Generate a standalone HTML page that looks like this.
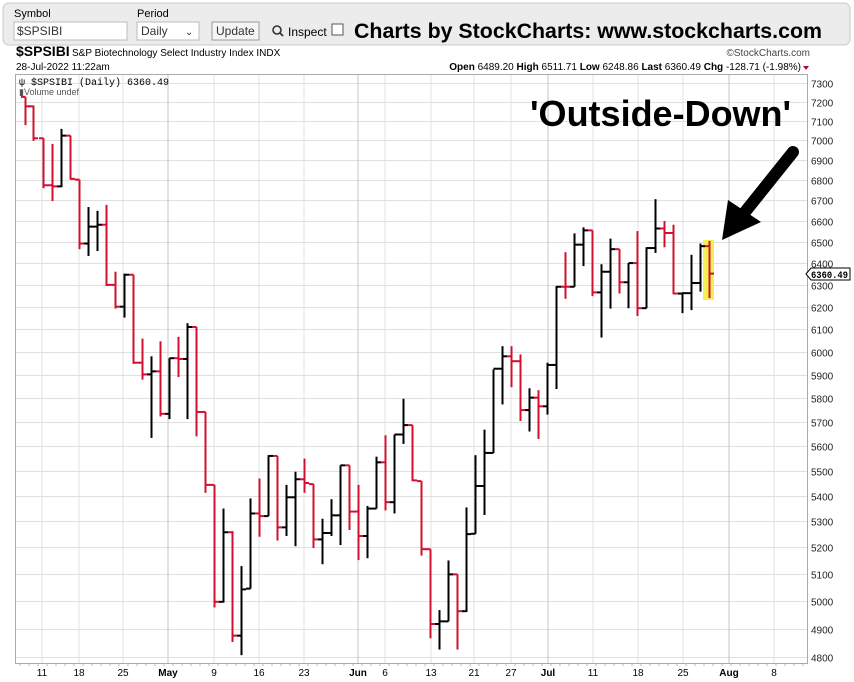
<!DOCTYPE html>
<html><head><meta charset="utf-8">
<style>
body{margin:0;background:#fff;font-family:"Liberation Sans",Arial,sans-serif;}
svg{display:block}
</style></head><body>
<svg id="s" width="854" height="682" xmlns="http://www.w3.org/2000/svg" font-family="Liberation Sans, Arial, sans-serif">
<rect x="3" y="3" width="847" height="42" rx="6" fill="#ececec" stroke="#c8c8c8"/>
<text x="14" y="17" font-size="11">Symbol</text>
<rect x="14" y="22" width="113" height="18" fill="#fff" stroke="#bbb"/>
<text x="17" y="35" font-size="12" fill="#333">$SPSIBI</text>
<text x="137" y="17" font-size="11">Period</text>
<rect x="137" y="22" width="62" height="18" fill="#fff" stroke="#bbb"/>
<text x="141" y="35" font-size="12" fill="#333">Daily</text>
<text x="185" y="35" font-size="10" fill="#333">⌄</text>
<rect x="212" y="22" width="47" height="18" fill="#f5f5f5" stroke="#999"/>
<text x="216" y="35" font-size="12" fill="#333">Update</text>
<circle cx="277" cy="30" r="4" fill="none" stroke="#333" stroke-width="1.6"/><line x1="280" y1="33" x2="283" y2="36" stroke="#333" stroke-width="1.8"/>
<text x="288" y="36" font-size="12">Inspect</text>
<rect x="332" y="24" width="11" height="11" fill="#fff" stroke="#555"/>
<text x="354" y="38" font-size="21" font-weight="bold" textLength="468" lengthAdjust="spacingAndGlyphs">Charts by StockCharts:  www.stockcharts.com</text>
<text x="16" y="56" font-size="14" font-weight="bold">$SPSIBI</text>
<text x="72" y="56" font-size="10">S&amp;P Biotechnology Select Industry Index  INDX</text>
<text x="810" y="56" font-size="10" text-anchor="end" fill="#444">©StockCharts.com</text>
<text x="16" y="70" font-size="10">28-Jul-2022 11:22am</text>
<text x="801" y="70" font-size="10" text-anchor="end"><tspan font-weight="bold">Open</tspan> 6489.20 <tspan font-weight="bold">High</tspan> 6511.71 <tspan font-weight="bold">Low</tspan> 6248.86 <tspan font-weight="bold">Last</tspan> 6360.49 <tspan font-weight="bold">Chg</tspan> -128.71 (-1.98%)</text>
<polygon points="803,66 809,66 806,70" fill="#a0102a"/>
<g id="grid"></g>
<rect x="15.5" y="74.5" width="792" height="589" fill="none" stroke="#aaa"/>
<text x="19" y="85" font-size="10" font-family="Liberation Mono, monospace">ψ $SPSIBI (Daily) 6360.49</text>
<text x="19" y="95" font-size="9" fill="#555">▮Volume undef</text>
<rect x="703" y="240" width="11" height="60" fill="#f5ef55"/>
<g id="bars"></g>
<text x="530" y="126" font-size="36" font-weight="bold">'Outside-Down'</text>
<line x1="793" y1="152" x2="745" y2="212" stroke="#000" stroke-width="12" stroke-linecap="round"/>
<polygon points="722,240 728,200 761,222" fill="#000"/>
<polygon points="806,274 811,268 850,268 850,280 811,280" fill="#fff" stroke="#000"/>
<text x="811" y="278" font-size="10" font-weight="bold" font-family="Liberation Mono, monospace" textLength="37" lengthAdjust="spacingAndGlyphs">6360.49</text>
</svg>
<script>
var ns="http://www.w3.org/2000/svg";
function el(p,t,a,txt){var e=document.createElementNS(ns,t);for(var k in a)e.setAttribute(k,a[k]);if(txt)e.textContent=txt;p.appendChild(e);return e;}
var g=document.getElementById('grid'),b=document.getElementById('bars');
function Y(v){return 83+1369.3*(Math.log(7300)-Math.log(v));}
for(var v=4800;v<=7300;v+=100){var y=Math.round(Y(v))+0.5;el(g,'line',{x1:16,x2:807,y1:y,y2:y,stroke:'#e0e0e0'});el(g,'text',{x:811,y:y+4,'font-size':10,fill:'#222'},String(v));}
var xs=[[42,'11'],[79,'18'],[123,'25'],[168,'May',1],[214,'9'],[259,'16'],[304,'23'],[358,'Jun',1],[385,'6'],[431,'13'],[474,'21'],[511,'27'],[548,'Jul',1],[593,'11'],[638,'18'],[683,'25'],[729,'Aug',1],[774,'8']];
xs.forEach(function(a){el(g,'line',{x1:a[0],x2:a[0],y1:75,y2:663,stroke:a[2]?'#c4c4c4':'#e0e0e0'});el(g,'text',{x:a[0],y:676,'font-size':10,'text-anchor':'middle','font-weight':a[2]?'bold':'normal'},a[1]);});
for(var x=20;x<806;x+=9)el(g,'line',{x1:x,x2:x,y1:663,y2:666,stroke:'#bbb'});
var z3=[[44,45,120,70,1],[70,68,162,155,1],[98,155,288,280,1],[125,170,322,283,1],[153,130,285,148,0],[180,148,265,263,1],[207,265,450,435,1],[234,338,468,390,0],[261,348,455,385,0],[288,332,548,545,1],[315,510,608,603,1],[342,515,632,518,0],[369,518,755,752,1],[396,688,797,783,1],[423,735,952,775,0],[450,695,895,888,1],[477,740,902,740,0],[504,683,790,742,1],[531,647,902,657,0],[558,657,948,883,1],[585,883,1098,1077,1],[612,1077,1403,1388,1],[639,1140,1390,1203,0],[666,1200,1495,1478,1],[693,1293,1530,1355,0],[720,1113,1353,1153,0],[747,1060,1215,1160,1],[774,998,1160,1000,0],[801,1000,1225,1190,1]];
var z4=[[47,1077,1213,1110,0],[74,1042,1240,1062,0],[101,1007,1098,1072,1],[128,1075,1245,1222,1],[155,1167,1288,1205,0],[182,1115,1213,1158,0],[209,1025,1237,1025,0],[236,1025,1197,1148,1],[263,1077,1277,1213,1],[290,1133,1272,1140,0],[317,1002,1140,1017,0],[344,945,1145,1123,1],[371,943,1153,943,0],[398,848,968,918,0],[425,918,1067,1065,1],[452,1067,1265,1248,1],[479,1248,1485,1447,1],[506,1410,1515,1440,0],[533,1278,1440,1315,0],[560,1315,1515,1413,1],[587,1137,1415,1208,0],[614,998,1207,1080,0],[641,930,1157,992,0],[668,770,992,768,0],[695,708,863,735,0],[722,708,817,748,1],[749,730,907,878,1],[776,820,935,845,0],[803,825,955,868,1]];
var z5=[[50,752,890,758,0],[78,548,822,550,0],[105,458,582,550,1],[132,408,550,438,0],[159,392,495,400,0],[186,400,575,565,1],[213,490,685,510,0],[240,422,608,450,0],[267,450,568,538,1],[294,487,607,487,0],[321,402,628,607,1],[348,445,607,447,0],[375,317,460,395,0],[402,375,445,407,1],[429,385,570,568,1],[456,565,620,567,0],[483,465,612,540,0],[510,435,563,442,0],[537,428,580,515,1]];
var bars=[];
z3.forEach(function(d){bars.push([d[0]/3+10,d[1]/2.66+80,d[2]/2.66+80,d[3]/2.66+80,d[4]]);});
z4.forEach(function(d){bars.push([d[0]/3+270,d[1]/2.66+80,d[2]/2.66+80,d[3]/2.66+80,d[4]]);});
z5.forEach(function(d){bars.push([d[0]/3+530,d[1]/2.66+80,d[2]/2.66+80,d[3]/2.66+80,d[4]]);});
var prev=null;
bars.forEach(function(d){var c=d[4]?'#d0102e':'#000';var x=Math.round(d[0])+0.5;var o=prev===null?d[1]:Math.min(Math.max(prev,d[1]),d[2]);
el(b,'line',{x1:x,x2:x,y1:d[1],y2:d[2],stroke:c,'stroke-width':2});
el(b,'line',{x1:x-4.5,x2:x,y1:o,y2:o,stroke:c,'stroke-width':2});
el(b,'line',{x1:x,x2:x+4.5,y1:d[3],y2:d[3],stroke:c,'stroke-width':2});prev=d[3];});
</script>
</body></html>
